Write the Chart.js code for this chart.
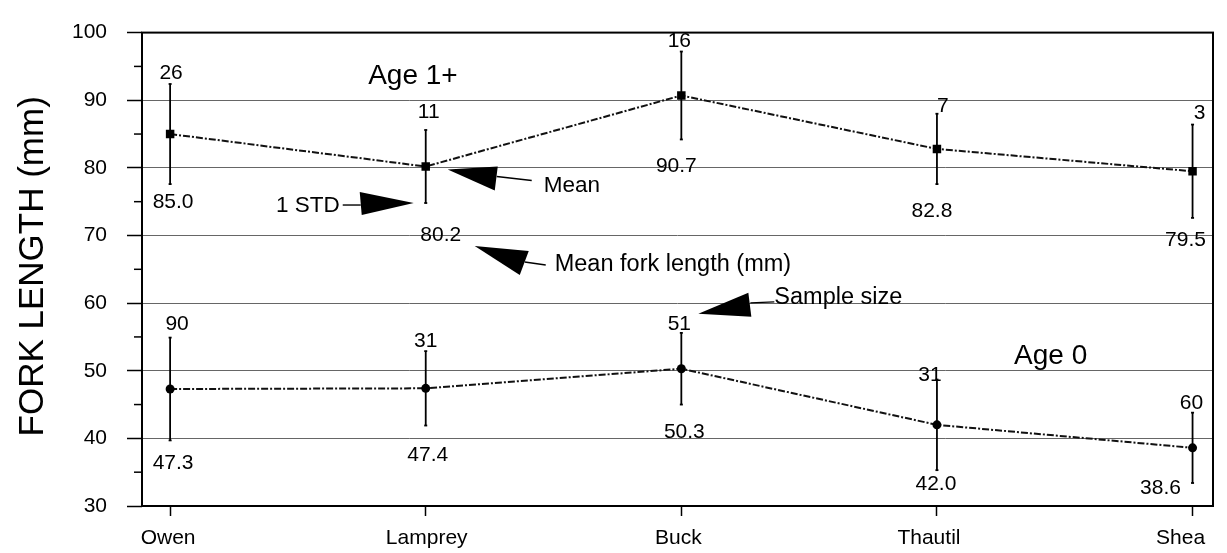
<!DOCTYPE html>
<html>
<head>
<meta charset="utf-8">
<script src="https://cdn.jsdelivr.net/npm/chart.js@4.4.0/dist/chart.umd.min.js"></script>
<style>
  body { margin: 0; background: #fff; }
  #wrap { width: 1227px; height: 553px; }
</style>
</head>
<body>
<div id="wrap"><canvas id="chart" width="1227" height="553"></canvas></div>
<script>
// Datos
const sites = ['Owen', 'Lamprey', 'Buck', 'Thautil', 'Shea'];
const meanAge1 = [85.0, 80.2, 90.7, 82.8, 79.5];
const stdAge1 = [7.4, 5.4, 6.5, 5.2, 6.9];
const nAge1 = [26, 11, 16, 7, 3];
const meanAge0 = [47.3, 47.4, 50.3, 42.0, 38.6];
const stdAge0 = [7.6, 5.5, 5.3, 6.7, 5.2];
const nAge0 = [90, 31, 51, 31, 60];
const minorTicks = [35, 45, 55, 65, 75, 85, 95];

const FONT = '"Liberation Sans", Arial, Helvetica, sans-serif';
Chart.defaults.font.family = FONT;
Chart.defaults.color = '#000';

// Ajustes de las etiquetas (px): [dx, dy] respecto al extremo de la barra
const nShift1 = [[1, -11], [3, -18], [-2, -10], [6, -8], [7, -11]];
const meanShift1 = [[3, 18], [15, 32], [-5, 27], [-5, 27], [-7, 22]];
const nShift0 = [[7, -13], [0, -10], [-2, -9], [-7, -4], [-1, -9]];
const meanShift0 = [[3, 23], [2, 30], [3, 28], [-1, 14], [-32, 5]];
const siteShift = [-2, 1, -3, -8, -12];

function wedge(ctx, p0, p1, p2) {
    ctx.beginPath();
    ctx.moveTo(p0[0], p0[1]);
    ctx.lineTo(p1[0], p1[1]);
    ctx.lineTo(p2[0], p2[1]);
    ctx.closePath();
    ctx.fill();
}

function seg(ctx, a, b) {
    ctx.beginPath();
    ctx.moveTo(a[0], a[1]);
    ctx.lineTo(b[0], b[1]);
    ctx.stroke();
}

const errorBars = {
    id: 'errorBars',
    beforeDatasetsDraw(chart) {
        const {ctx, scales: {x, y}} = chart;
        ctx.save();
        ctx.strokeStyle = '#000';
        ctx.lineWidth = 1.8;
        [[meanAge1, stdAge1], [meanAge0, stdAge0]].forEach(([m, s]) => {
            m.forEach((v, i) => {
                const px = x.getPixelForValue(i);
                const top = y.getPixelForValue(v + s[i]);
                const bot = y.getPixelForValue(v - s[i]);
                seg(ctx, [px, top], [px, bot]);
                seg(ctx, [px - 1.5, top], [px + 1.5, top]);
                seg(ctx, [px - 1.5, bot], [px + 1.5, bot]);
            });
        });
        ctx.restore();
    }
};

const overlay = {
    id: 'overlay',
    afterDraw(chart) {
        const {ctx, chartArea: a, scales: {x, y}} = chart;
        ctx.save();

        // Marco
        ctx.strokeStyle = '#000';
        ctx.lineWidth = 2;
        ctx.strokeRect(a.left, a.top, a.right - a.left, a.bottom - a.top);

        // Marcas menores del eje y
        ctx.lineWidth = 1.5;
        minorTicks.forEach(v => {
            const py = y.getPixelForValue(v);
            seg(ctx, [a.left - 8, py], [a.left, py]);
        });

        // Título del eje y
        ctx.fillStyle = '#000';
        ctx.save();
        ctx.translate(33, (a.top + a.bottom) / 2 - 3);
        ctx.rotate(-Math.PI / 2);
        ctx.font = '35px ' + FONT;
        ctx.textAlign = 'center';
        ctx.textBaseline = 'middle';
        ctx.fillText('FORK LENGTH (mm)', 0, 0);
        ctx.restore();

        // Nombres de sitio
        ctx.font = '21px ' + FONT;
        ctx.textAlign = 'center';
        ctx.textBaseline = 'middle';
        sites.forEach((s, i) => {
            ctx.fillText(s, x.getPixelForValue(i) + siteShift[i], a.bottom + 32);
        });

        // Etiquetas: tamaño de muestra arriba, media abajo
        const groups = [
            [meanAge1, stdAge1, nAge1, nShift1, meanShift1],
            [meanAge0, stdAge0, nAge0, nShift0, meanShift0]
        ];
        groups.forEach(([m, s, n, ns, ms]) => {
            m.forEach((v, i) => {
                const px = x.getPixelForValue(i);
                const top = y.getPixelForValue(v + s[i]);
                const bot = y.getPixelForValue(v - s[i]);
                ctx.fillText(String(n[i]), px + ns[i][0], top + ns[i][1]);
                ctx.fillText(v.toFixed(1), px + ms[i][0], bot + ms[i][1]);
            });
        });

        // Títulos de grupo
        ctx.font = '28px ' + FONT;
        ctx.fillText('Age 1+', x.getPixelForValue(0.95), y.getPixelForValue(93.5));
        ctx.fillText('Age 0', x.getPixelForValue(3.445), y.getPixelForValue(52.2));

        // Flechas de la leyenda
        ctx.font = '22.5px ' + FONT;
        ctx.lineWidth = 1.4;

        // 1 STD
        const sx = x.getPixelForValue(1);
        const sLo = y.getPixelForValue(meanAge1[1] - stdAge1[1]);
        wedge(ctx, [sx - 12, sLo], [sx - 66, sLo - 11], [sx - 64, sLo + 12]);
        seg(ctx, [sx - 83, sLo + 2], [sx - 65, sLo + 2]);
        ctx.textAlign = 'right';
        ctx.fillText('1 STD', sx - 86, sLo + 3);

        // Mean
        ctx.textAlign = 'left';
        const my = y.getPixelForValue(meanAge1[1]);
        wedge(ctx, [sx + 22, my + 3], [sx + 72, my], [sx + 69, my + 24]);
        seg(ctx, [sx + 71, my + 10], [sx + 106, my + 14]);
        ctx.fillText('Mean', sx + 118, my + 19);

        // Mean fork length
        const lx = sx + meanShift1[1][0];
        const ly = sLo + meanShift1[1][1];
        wedge(ctx, [lx + 34, ly + 11], [lx + 88, ly + 16], [lx + 79, ly + 40]);
        seg(ctx, [lx + 84, ly + 27], [lx + 105, ly + 30]);
        ctx.font = '23.5px ' + FONT;
        ctx.fillText('Mean fork length (mm)', lx + 114, ly + 29);

        // Sample size
        const bx = x.getPixelForValue(2) + nShift0[2][0];
        const by = y.getPixelForValue(meanAge0[2] + stdAge0[2]) + nShift0[2][1];
        wedge(ctx, [bx + 19, by - 10], [bx + 69, by - 31], [bx + 72, by - 7]);
        seg(ctx, [bx + 71, by - 21], [bx + 95, by - 22]);
        ctx.fillText('Sample size', bx + 95, by - 26);

        ctx.restore();
    }
};

const lineStyle = {
    borderColor: '#111',
    backgroundColor: '#000',
    borderWidth: 2,
    borderDash: [7, 2, 2, 2],
    pointBorderWidth: 0,
    tension: 0
};

const config = {
    type: 'line',
    data: {
        datasets: [
            {
                label: 'Age 1+',
                data: meanAge1.map((v, i) => ({ x: i, y: v })),
                pointStyle: 'rect',
                pointRadius: 6,
                ...lineStyle
            },
            {
                label: 'Age 0',
                data: meanAge0.map((v, i) => ({ x: i, y: v })),
                pointStyle: 'circle',
                pointRadius: 4.5,
                ...lineStyle
            }
        ]
    },
    options: {
        responsive: false,
        animation: false,
        layout: { padding: { top: 20, right: 14, left: 0, bottom: 0 } },
        plugins: { legend: { display: false }, tooltip: { enabled: false } },
        scales: {
            x: {
                type: 'linear',
                min: -0.11,
                max: 4.08,
                afterBuildTicks: s => { s.ticks = sites.map((c, i) => ({ value: i })); },
                afterFit: s => { s.height = 47; },
                border: { display: false },
                grid: { drawOnChartArea: false, tickLength: 10, tickColor: '#000', tickWidth: 1.5 },
                ticks: { display: false }
            },
            y: {
                min: 30,
                max: 100,
                afterFit: s => { s.width = 142; },
                border: { display: false },
                grid: {
                    color: c => (c.tick && (c.tick.value === 30 || c.tick.value === 100)) ? 'rgba(0,0,0,0)' : '#666',
                    lineWidth: 1,
                    tickLength: 15,
                    tickColor: '#000',
                    tickWidth: 1.5
                },
                ticks: { stepSize: 10, padding: 20, font: { size: 21 } }
            }
        }
    },
    plugins: [errorBars, overlay]
};

new Chart(document.getElementById('chart'), config);
</script>
</body>
</html>
